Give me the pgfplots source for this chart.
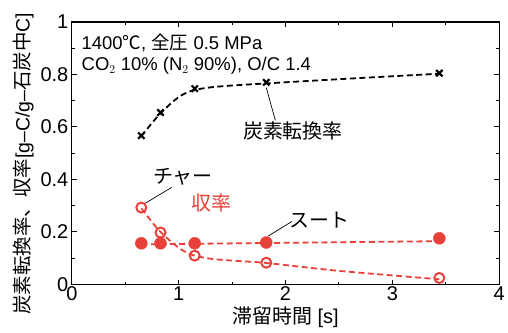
\documentclass[border=0pt]{standalone}
\usepackage{pgfplots}
\pgfplotsset{compat=1.18}
\usepackage{fontspec}
\setmainfont{Liberation Sans}
\newfontfamily\jp{Noto Sans CJK JP}
\definecolor{myred}{RGB}{232,65,58}
\begin{document}
\begin{tikzpicture}
\begin{axis}[
  at={(0,0)}, anchor=south west,
  scale only axis, width=428pt, height=263pt,
  xmin=0, xmax=4, ymin=0, ymax=1,
  xtick={0,1,2,3,4}, ytick={0,0.2,0.4,0.6,0.8,1},
  minor xtick={0.5,1.5,2.5,3.5},
  minor ytick={0.1,0.3,0.5,0.7,0.9},
  yticklabels={0,0.2,0.4,0.6,0.8,1},
  tick align=inside,
  major tick length=5pt, minor tick length=3pt,
  axis line style={line width=1.2pt},
  every tick/.style={line width=1pt, black},
  /pgf/number format/assume math mode=true,
  tick label style={font=\fontsize{20}{22}\selectfont},
  xticklabel style={yshift=1pt},
  xlabel={\jp 滞留時間\rmfamily\ [s]},
  xlabel style={font=\fontsize{20}{22}\selectfont, yshift=1pt},
  ylabel={\jp 炭素転換率、収率\rmfamily[g–C/g–\jp 石炭中\rmfamily C]},
  ylabel style={font=\fontsize{19.5}{22}\selectfont, at={(ticklabel cs:0.46)}},
  clip=false,
]
% carbon conversion fit
\addplot[black, line width=1.8pt, dash pattern=on 6pt off 3.5pt, smooth] coordinates {
(0.65,0.565)(0.75,0.615)(0.83,0.652)(0.95,0.698)(1.05,0.726)(1.15,0.741)(1.3,0.751)(1.5,0.758)(1.82,0.766)(2.5,0.782)(3.44,0.803)};
\addplot[black, only marks, mark=x, mark size=4.5pt, line width=2.2pt] coordinates {
(0.65,0.567)(0.83,0.655)(1.15,0.746)(1.82,0.770)(3.44,0.805)};
% soot fit
\addplot[myred, line width=1.8pt, dash pattern=on 6pt off 3.5pt] coordinates {
(0.65,0.153)(3.44,0.165)};
% char fit
\addplot[myred, line width=1.8pt, dash pattern=on 6pt off 3.5pt, smooth] coordinates {
(0.65,0.290)(0.75,0.238)(0.83,0.200)(0.95,0.156)(1.05,0.127)(1.15,0.110)(1.3,0.098)(1.5,0.091)(1.82,0.082)(2.5,0.052)(3.44,0.020)};
% soot
\addplot[myred, only marks, mark=*, mark size=6pt] coordinates {
(0.65,0.157)(0.83,0.157)(1.15,0.157)(1.82,0.160)(3.44,0.176)};
% char
\addplot[myred, only marks, mark=o, mark size=5pt, line width=2pt, mark options={fill=white}] coordinates {
(0.65,0.293)(0.83,0.198)(1.15,0.110)(1.82,0.083)(3.44,0.025)};
% annotations
\node[anchor=north west, align=left, font=\fontsize{18.5}{21}\selectfont, inner sep=0pt] at (axis cs:0.09,0.955)
 {1400{\jp ℃}, {\jp 全圧} 0.5 MPa\\CO$_2$ 10\% (N$_2$ 90\%), O/C 1.4};
\node[font=\jp\fontsize{20}{22}\selectfont] at (axis cs:2.07,0.585) {炭素転換率};
\draw[black, line width=0.7pt] (axis cs:1.82,0.75) -- (axis cs:1.905,0.625);
\node[font=\jp\fontsize{20}{22}\selectfont] at (axis cs:1.04,0.41) {チャー};
\draw[black, line width=0.7pt] (axis cs:0.69,0.31) -- (axis cs:0.935,0.37);
\node[font=\jp\fontsize{20}{22}\selectfont, text=myred] at (axis cs:1.31,0.31) {収率};
\node[font=\jp\fontsize{20}{22}\selectfont] at (axis cs:2.32,0.244) {スート};
\draw[black, line width=0.7pt] (axis cs:1.84,0.185) -- (axis cs:2.06,0.24);
\end{axis}
\path[use as bounding box] (-72pt,-48pt) rectangle (436pt,285pt);
\end{tikzpicture}
\end{document}
